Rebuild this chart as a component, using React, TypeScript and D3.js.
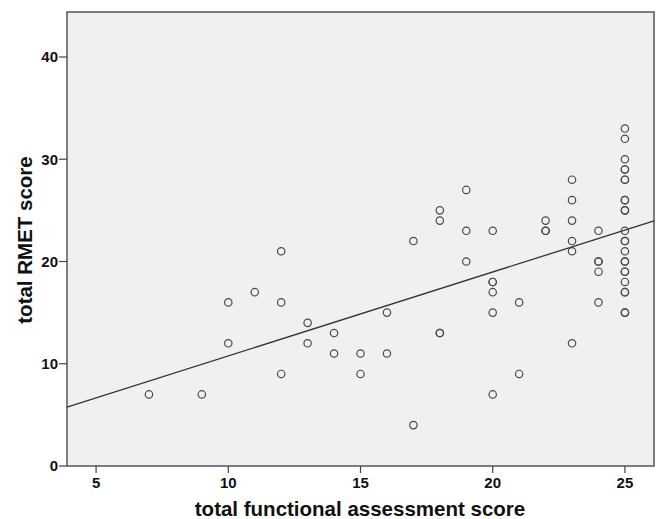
import React, { useEffect, useRef } from 'react';
import * as d3 from 'd3';

// functional score (x) and RMET score (y), duplicates kept where circles overlap
const funcScores = [
  7, 9, 10, 10, 11, 12, 12, 12, 13, 13, 14, 14, 15, 15, 16, 16, 17, 17,
  18, 18, 18, 18, 19, 19, 19, 20, 20, 20, 20, 20, 20, 21, 21, 22, 22, 22,
  23, 23, 23, 23, 23, 23, 24, 24, 24, 24, 24,
  25, 25, 25, 25, 25, 25, 25, 25, 25, 25, 25, 25, 25, 25, 25, 25, 25, 25, 25,
  25, 25, 25, 25, 25,
];
const rmetScores = [
  7, 7, 16, 12, 17, 21, 16, 9, 14, 12, 13, 11, 11, 9, 15, 11, 22, 4,
  25, 24, 13, 13, 27, 23, 20, 23, 18, 18, 17, 15, 7, 16, 9, 24, 23, 23,
  28, 26, 24, 22, 21, 12, 23, 20, 20, 19, 16,
  33, 32, 30, 29, 29, 28, 28, 26, 26, 25, 25, 23, 22, 22, 21, 20, 20, 19, 19,
  18, 17, 17, 15, 15,
];
const xTicks = [5, 10, 15, 20, 25];
const yTicks = [0, 10, 20, 30, 40];
const fitIntercept = 2.57;
const fitSlope = 0.82;

const App: React.FC = () => {
  const svgRef = useRef<SVGSVGElement>(null);

  useEffect(() => {
    if (!svgRef.current) return;
    const width = 660;
    const height = 519;
    const left = 67;
    const right = 654;
    const top = 12;
    const bottom = 466;
    const tickFont = '"Liberation Sans Narrow", "Arial Narrow", sans-serif';
    const titleFont = '"Liberation Sans", Arial, sans-serif';

    const svg = d3.select(svgRef.current);
    svg.selectAll('*').remove();

    const x = d3.scaleLinear().domain([3.9, 26.1]).range([left, right]);
    const y = d3.scaleLinear().domain([0, 44.4]).range([bottom, top]);

    svg.append('rect')
      .attr('width', width)
      .attr('height', height)
      .attr('fill', '#ffffff');

    // plot background
    svg.append('rect')
      .attr('x', left)
      .attr('y', top)
      .attr('width', right - left)
      .attr('height', bottom - top)
      .attr('fill', '#f0f0f0')
      .attr('stroke', '#555')
      .attr('stroke-width', 1.5);

    // y axis ticks
    const yAxis = svg.append('g');
    yAxis.selectAll('line')
      .data(yTicks)
      .join('line')
      .attr('x1', left - 8)
      .attr('x2', left)
      .attr('y1', d => y(d))
      .attr('y2', d => y(d))
      .attr('stroke', '#444')
      .attr('stroke-width', 1.2);
    yAxis.selectAll('text')
      .data(yTicks)
      .join('text')
      .attr('x', left - 9)
      .attr('y', d => y(d))
      .attr('dy', '0.36em')
      .attr('text-anchor', 'end')
      .attr('font-family', tickFont)
      .attr('font-weight', 'bold')
      .attr('font-size', 15)
      .attr('fill', '#111')
      .text(d => d);

    // x axis ticks
    const xAxis = svg.append('g');
    xAxis.selectAll('line')
      .data(xTicks)
      .join('line')
      .attr('x1', d => x(d))
      .attr('x2', d => x(d))
      .attr('y1', bottom)
      .attr('y2', bottom + 7)
      .attr('stroke', '#444')
      .attr('stroke-width', 1.2);
    xAxis.selectAll('text')
      .data(xTicks)
      .join('text')
      .attr('x', d => x(d))
      .attr('y', bottom + 22)
      .attr('text-anchor', 'middle')
      .attr('font-family', tickFont)
      .attr('font-weight', 'bold')
      .attr('font-size', 15)
      .attr('fill', '#111')
      .text(d => d);

    // fit line
    const xd = x.domain();
    svg.append('line')
      .attr('x1', x(xd[0]))
      .attr('x2', x(xd[1]))
      .attr('y1', y(fitIntercept + fitSlope * xd[0]))
      .attr('y2', y(fitIntercept + fitSlope * xd[1]))
      .attr('stroke', '#333')
      .attr('stroke-width', 1.3);

    // points
    const pts = funcScores.map((v, i) => [v, rmetScores[i]] as [number, number]);
    svg.append('g')
      .selectAll('circle')
      .data(pts)
      .join('circle')
      .attr('cx', d => x(d[0]))
      .attr('cy', d => y(d[1]))
      .attr('r', 3.7)
      .attr('fill', 'none')
      .attr('stroke', '#4a4a4a')
      .attr('stroke-width', 1.2);

    // axis titles
    svg.append('text')
      .attr('x', 360)
      .attr('y', 516)
      .attr('text-anchor', 'middle')
      .attr('font-family', titleFont)
      .attr('font-weight', 'bold')
      .attr('font-size', 20.5)
      .attr('fill', '#111')
      .text('total functional assessment score');

    svg.append('text')
      .attr('transform', 'translate(32,240) rotate(-90)')
      .attr('text-anchor', 'middle')
      .attr('font-family', titleFont)
      .attr('font-weight', 'bold')
      .attr('font-size', 20.5)
      .attr('fill', '#111')
      .text('total RMET score');
  }, []);

  return (
    <svg
      ref={svgRef}
      width={660}
      height={519}
      style={{ position: 'absolute', left: 0, top: 0, display: 'block' }}
    />
  );
};

export default App;
